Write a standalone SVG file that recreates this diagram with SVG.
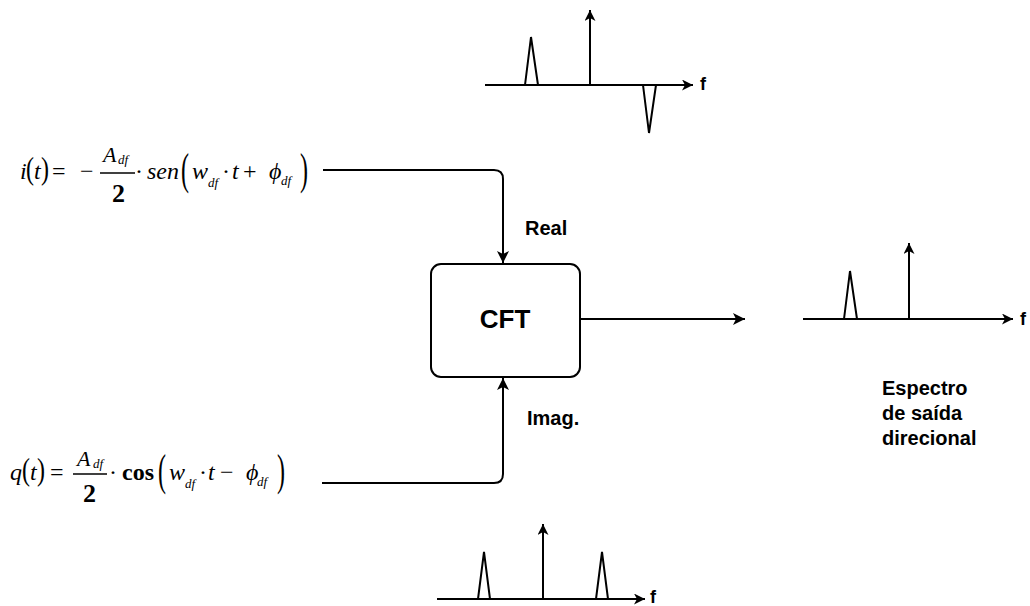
<svg xmlns="http://www.w3.org/2000/svg" width="1030" height="606" viewBox="0 0 1030 606">
<style>
.ln{fill:none;stroke:#000;stroke-width:2}
.sp{fill:none;stroke:#000;stroke-width:2;stroke-linejoin:miter}
.lbl{font-family:"Liberation Sans",Arial,sans-serif;font-weight:bold;font-size:20px;fill:#000}
.f{font-family:"Liberation Sans",Arial,sans-serif;font-weight:bold;font-size:18px;fill:#000}
.m{font-family:"Liberation Serif","Times New Roman",serif;font-size:24px;fill:#000}
.mi{font-family:"Liberation Serif","Times New Roman",serif;font-style:italic;font-size:24px;fill:#000}
.A{font-family:"Liberation Serif","Times New Roman",serif;font-style:italic;font-size:22px;fill:#000}
.sub{font-family:"Liberation Serif","Times New Roman",serif;font-style:italic;font-size:13px;fill:#000}
.two{font-family:"Liberation Serif","Times New Roman",serif;font-weight:bold;font-size:26px;fill:#000}
.mb{font-family:"Liberation Serif","Times New Roman",serif;font-weight:bold;font-size:24px;fill:#000}
.bar{stroke:#000;stroke-width:1.3}
</style>
<defs>
<marker id="ah" markerUnits="userSpaceOnUse" markerWidth="13" markerHeight="12" refX="12" refY="6" orient="auto">
<path d="M0,0 L12,6 L0,12 L3,6 z" fill="#000"/>
</marker>
<marker id="ahs" markerUnits="userSpaceOnUse" markerWidth="12" markerHeight="12" refX="11" refY="5.5" orient="auto">
<path d="M0,0 L11,5.5 L0,11 L3,5.5 z" fill="#000"/>
</marker>
</defs>

<g id="connectors">
<path class="ln" d="M323,170 H494 Q503,170 503,179 V263" marker-end="url(#ah)"/>
<path class="ln" d="M322,483 H494 Q503,483 503,474 V378" marker-end="url(#ah)"/>
<path class="ln" d="M580,319 H745" marker-end="url(#ah)"/>
</g>

<g id="cft">
<rect x="431" y="264" width="149" height="113" rx="10" ry="10" fill="#fff" stroke="#000" stroke-width="2"/>
<text x="505" y="328" text-anchor="middle" style="font-family:'Liberation Sans',Arial,sans-serif;font-weight:bold;font-size:26px">CFT</text>
</g>

<g id="label-real"><text class="lbl" x="525" y="235">Real</text></g>
<g id="label-imag"><text class="lbl" x="527" y="425">Imag.</text></g>

<g id="eq-i">
<text class="mi" x="20" y="179">i</text>
<text class="m" transform="translate(26,179) scale(1,1.3)">(</text>
<text class="mi" x="34" y="179">t</text>
<text class="m" transform="translate(41,179) scale(1,1.3)">)</text>
<text class="m" x="52" y="179">=</text>
<text class="m" x="80" y="179">−</text>
<line class="bar" x1="100" y1="173" x2="135" y2="173"/>
<text class="A" x="103" y="162">A</text>
<text class="sub" x="118" y="164">df</text>
<text class="two" x="112" y="202">2</text>
<text class="m" x="135" y="179">·</text>
<text class="mi" x="147" y="179">sen</text>
<text class="m" transform="translate(181,184) scale(1,1.85)">(</text>
<text class="mi" x="192" y="179">w</text>
<text class="sub" x="208" y="187">df</text>
<text class="m" x="222" y="179">·</text>
<text class="mi" x="232" y="179">t</text>
<text class="m" x="243" y="179">+</text>
<text class="mi" x="269" y="179">ϕ</text>
<text class="sub" x="281" y="185">df</text>
<text class="m" transform="translate(300,184) scale(1,1.85)">)</text>
</g>

<g id="eq-q">
<text class="mi" x="10" y="480">q</text>
<text class="m" transform="translate(22,480) scale(1,1.3)">(</text>
<text class="mi" x="30" y="480">t</text>
<text class="m" transform="translate(37,480) scale(1,1.3)">)</text>
<text class="m" x="50" y="480">=</text>
<line class="bar" x1="73" y1="474" x2="107" y2="474"/>
<text class="A" x="77" y="466">A</text>
<text class="sub" x="93" y="468">df</text>
<text class="two" x="83" y="502">2</text>
<text class="m" x="109" y="480">·</text>
<text class="mb" x="122" y="480">cos</text>
<text class="m" transform="translate(158,485) scale(1,1.85)">(</text>
<text class="mi" x="169" y="480">w</text>
<text class="sub" x="185" y="488">df</text>
<text class="m" x="199" y="480">·</text>
<text class="mi" x="208" y="480">t</text>
<text class="m" x="220" y="480">−</text>
<text class="mi" x="246" y="480">ϕ</text>
<text class="sub" x="257" y="486">df</text>
<text class="m" transform="translate(277,485) scale(1,1.85)">)</text>
</g>

<g id="spectrum-top">
<path class="ln" d="M485,85 H693" marker-end="url(#ahs)"/>
<path class="ln" d="M590,85 V10" marker-end="url(#ahs)"/>
<polyline class="sp" points="525,85 531,37 538,85"/>
<polyline class="sp" points="643,85 649,133 656,85"/>
<text class="f" x="700" y="90">f</text>
</g>

<g id="spectrum-out">
<path class="ln" d="M803,319 H1013" marker-end="url(#ahs)"/>
<path class="ln" d="M909,319 V243" marker-end="url(#ahs)"/>
<polyline class="sp" points="844,319 850,271 857,319"/>
<text class="f" x="1020" y="325">f</text>
</g>

<g id="label-espectro">
<text class="lbl" x="882" y="395">Espectro</text>
<text class="lbl" x="882" y="420">de saída</text>
<text class="lbl" x="882" y="445">direcional</text>
</g>

<g id="spectrum-bottom">
<path class="ln" d="M437,599 H645" marker-end="url(#ahs)"/>
<path class="ln" d="M543,599 V524" marker-end="url(#ahs)"/>
<polyline class="sp" points="478,599 484,552 490,599"/>
<polyline class="sp" points="596,599 602,552 608,599"/>
<text class="f" x="650" y="603">f</text>
</g>
</svg>
